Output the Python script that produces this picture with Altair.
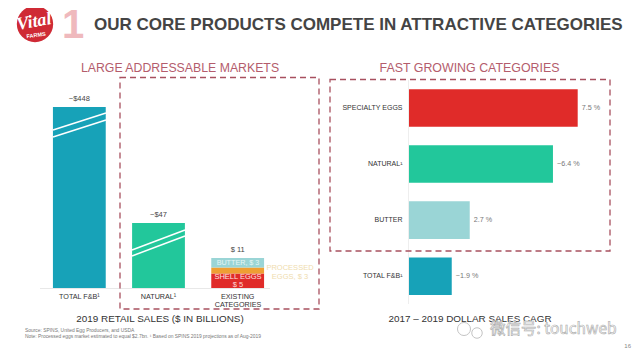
import altair as alt
import pandas as pd

# ---- chart values ----
market_cats = ["TOTAL F&B¹", "NATURAL¹", "EXISTING CATEGORIES"]
market_values = [448, 47]
market_labels = ["~$448", "~$47", "$ 11"]
stack_names = ["SHELL EGGS", "PROCESSED EGGS", "BUTTER"]
stack_values = [5, 3, 3]
cagr_cats = ["SPECIALTY EGGS", "NATURAL¹", "BUTTER", "TOTAL  F&B¹"]
cagr_values = [7.5, 6.4, 2.7, 1.9]
cagr_labels = ["7.5 %", "~6.4 %", "2.7 %", "~1.9 %"]

TEAL, GREEN, RED, ORANGE, PALE = "#17a2b8", "#22c79b", "#e02b29", "#ef9f33", "#9ad5d6"
DASH = "#a8505f"
OFF = 8  # page margin


def X(v):
    return alt.value(v - OFF)


one = pd.DataFrame({"a": [0]})


def txt(s, x, y, size=9, color="#444444", align="center", weight="normal", font="Liberation Sans", **kw):
    return alt.Chart(one).mark_text(
        text=s, fontSize=size, color=color, align=align, fontWeight=weight, font=font, baseline="middle", **kw
    ).encode(x=X(x), y=X(y))


def seg(x1, y1, x2, y2, color="white", w=1.5):
    return alt.Chart(one).mark_rule(color=color, strokeWidth=w).encode(x=X(x1), x2=X(x2), y=X(y1), y2=X(y2))


def box(x1, y1, x2, y2):
    return alt.Chart(one).mark_rect(
        fill=None, fillOpacity=0, stroke=DASH, strokeWidth=1.3, strokeDash=[6, 4]
    ).encode(x=X(x1), x2=X(x2), y=X(y1), y2=X(y2))


# ---- scales (the left value axis is broken, hence piecewise) ----
lx = alt.Scale(domain=market_cats, range=[39.75 - OFF, 277.25 - OFF], paddingInner=0.333, paddingOuter=0.1665)
ly = alt.Scale(domain=[0, 5, 8, 11, 47, 448], range=[288 - OFF, 273.5 - OFF, 267.5 - OFF, 258 - OFF, 223 - OFF, 107 - OFF])
rx = alt.Scale(domain=[0, 7.5], range=[409 - OFF, 577.7 - OFF])
ry = alt.Scale(domain=cagr_cats, range=[80 - OFF, 304.2 - OFF], paddingInner=0.33, paddingOuter=0.165)

Xc = alt.X("cat:N", scale=lx, axis=None, sort=market_cats)
Yv = alt.Y("v:Q", scale=ly, axis=None)

main = pd.DataFrame({"cat": market_cats[:2], "v": market_values, "c": [TEAL, GREEN]})
left_bars = alt.Chart(main).mark_bar().encode(x=Xc, y=Yv, y2=alt.datum(0), color=alt.Color("c:N", scale=None))

lo, rows = 0, []
for n, v, c in zip(stack_names, stack_values, [RED, ORANGE, PALE]):
    rows.append({"cat": market_cats[2], "v": lo + v, "v0": lo, "c": c})
    lo += v
stack = alt.Chart(pd.DataFrame(rows)).mark_bar().encode(
    x=Xc, y=Yv, y2="v0:Q", color=alt.Color("c:N", scale=None)
)

tops = pd.DataFrame({"cat": market_cats, "v": market_values + [sum(stack_values)], "t": market_labels})
top_text = alt.Chart(tops).mark_text(fontSize=7.5, color="#444444", font="Liberation Sans", dy=-8, baseline="middle").encode(
    x=Xc, y=Yv, text="t:N"
)
cat_lab = pd.DataFrame({"cat": market_cats, "t": ["TOTAL F&B¹", "NATURAL¹", "EXISTING"]})
cat_text = alt.Chart(cat_lab).mark_text(fontSize=7.2, color="#333333", font="Liberation Sans", baseline="middle").encode(
    x=Xc, y=X(297), text="t:N"
)
left = alt.layer(left_bars, stack, top_text, cat_text)

rdf = pd.DataFrame({"cat": cagr_cats, "v": cagr_values, "t": cagr_labels, "c": [RED, GREEN, PALE, TEAL]})
Yc = alt.Y("cat:N", scale=ry, axis=None, sort=cagr_cats)
Xv = alt.X("v:Q", scale=rx, axis=None)
r_bars = alt.Chart(rdf).mark_bar().encode(y=Yc, x=Xv, x2=alt.datum(0), color=alt.Color("c:N", scale=None))
r_vals = alt.Chart(rdf).mark_text(fontSize=7.2, color="#777777", align="left", dx=4, font="Liberation Sans", baseline="middle").encode(
    y=Yc, x=Xv, text="t:N"
)
r_cats = alt.Chart(rdf).mark_text(fontSize=7, color="#333333", align="right", font="Liberation Sans", baseline="middle").encode(
    y=Yc, x=X(402.5), text="cat:N"
)
right = alt.layer(r_bars, r_vals, r_cats)

decor_under = [
    seg(40, 288.5, 270, 288.5, "#e8e8e8", 1),
    seg(408.5, 80, 408.5, 304, "#eeeeee", 1),
]
stripes = [
    seg(53, 130, 106, 113), seg(53, 137, 106, 120),
    seg(132, 250, 185, 230), seg(132, 256, 185, 236),
]
frames = [box(120, 77.5, 319, 309), box(330, 79.5, 610, 251)]

labels = [
    alt.Chart(one).mark_point(filled=True, shape="circle", size=1320, color="#cf2a35", opacity=1).encode(x=X(35), y=X(24)),
    txt("Vital", 34, 22, 18, "white", font="Liberation Serif", fontStyle="italic", weight="bold", angle=350),
    txt("FARMS", 36, 35, 5.5, "white", weight="bold", angle=352),
    txt("1", 73, 26, 40, "#efb9bd", weight="bold"),
    txt("OUR CORE PRODUCTS COMPETE IN ATTRACTIVE CATEGORIES", 94, 25, 17, "#444444", "left", "bold"),
    txt("LARGE ADDRESSABLE MARKETS", 180, 68, 12.3, "#b45c6c"),
    txt("FAST GROWING CATEGORIES", 469.5, 68, 12.4, "#b45c6c"),
    txt("CATEGORIES", 238, 305, 7.2, "#333333"),
    txt("BUTTER, $ 3", 238, 263, 7.2, "#e6f5f5"),
    txt("SHELL EGGS", 238, 277, 7.5, "#ffe3e0"),
    txt("$ 5", 238, 285, 7.5, "#ffd9d5"),
    txt("PROCESSED", 290, 268, 7.5, "#efdcae"),
    txt("EGGS, $ 3", 290, 277, 7.5, "#efdcae"),
    txt("2019 RETAIL SALES ($ IN BILLIONS)", 160, 319, 9.9, "#333333"),
    txt("2017 – 2019 DOLLAR SALES CAGR", 470, 319, 9.9, "#333333"),
    txt("Source: SPINS, United Egg Producers, and USDA", 25, 331, 4.9, "#777777", "left"),
    txt("Note: Processed eggs market estimated to equal $2.7bn. ¹ Based on SPINS 2019 projections as of Aug-2019", 25, 337, 4.9, "#777777", "left"),
    txt("16", 631, 346, 6, "#888888", "right"),
    alt.Chart(one).mark_point(shape="circle", size=170, stroke="#c4c4c4", strokeWidth=1, fill="white", fillOpacity=1, opacity=1).encode(x=X(464), y=X(329)),
    alt.Chart(one).mark_point(shape="circle", size=110, stroke="#c4c4c4", strokeWidth=1, fill="white", fillOpacity=1, opacity=1).encode(x=X(477), y=X(333)),
    txt("微信号: touchweb", 490, 329, 15.5, "white", "left", font="Noto Sans CJK SC", stroke="#aaaaaa", strokeWidth=0.6),
]

chart = alt.layer(*decor_under, left, right, *stripes, *frames, *labels).resolve_scale(
    x="independent", y="independent", color="independent"
).properties(
    width=624, height=341, padding=0, autosize=alt.AutoSizeParams(type="none"), background="white"
).configure_view(stroke=None)

chart.save("out.html", embed_options={"renderer": "svg", "actions": False})
